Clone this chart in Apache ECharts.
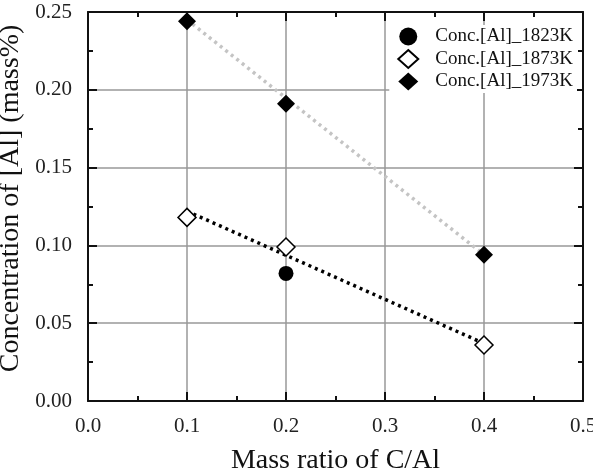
<!DOCTYPE html>
<html>
<head>
<meta charset="utf-8">
<script src="https://cdn.jsdelivr.net/npm/echarts@6/dist/echarts.min.js"></script>
<style>
html,body{margin:0;padding:0;background:#fff;}
#chart{width:593px;height:472px;}
</style>
</head>
<body>
<div id="chart"></div>
<script>
// 数据
var ratio = [0.1, 0.2, 0.4];
var al1823 = [[0.2, 0.082]];
var al1873 = [0.118, 0.099, 0.036];
var al1973 = [0.244, 0.191, 0.094];
// 拟合线 (两端点)
var fitX = [0.1, 0.4];
var fit1873 = [0.122, 0.037];
var fit1973 = [0.245, 0.094];
var names = ['Conc.[Al]_1823K', 'Conc.[Al]_1873K', 'Conc.[Al]_1973K'];

function pairs(xs, ys){
  var out = [];
  for (var i = 0; i < xs.length; i++) out.push([xs[i], ys[i]]);
  return out;
}

var font = 'Liberation Serif';
var chart = echarts.init(document.getElementById('chart'));
var axisLine = {show: true, onZero: false, lineStyle: {color: '#111', width: 2}};
var tick = {show: true, inside: true, length: 9, lineStyle: {color: '#111', width: 2}};
var minor = {show: true, splitNumber: 2, length: 5, lineStyle: {color: '#111', width: 2}};
var option = {
  animation: false,
  textStyle: {fontFamily: font},
  grid: {left: 88, right: 10, top: 12, bottom: 71, outerBoundsMode: 'none', containLabel: false},
  legend: {
    data: names,
    orient: 'vertical',
    right: 16,
    top: 25,
    itemGap: 3,
    itemWidth: 20,
    itemHeight: 18,
    padding: [2, 4, 2, 8],
    backgroundColor: '#fff',
    textStyle: {fontFamily: font, fontSize: 19, color: '#111', padding: [0, 0, 0, 12]}
  },
  xAxis: [
    {
      type: 'value', min: 0, max: 0.5, interval: 0.1,
      name: 'Mass ratio of C/Al', nameLocation: 'middle', nameGap: 46,
      nameTextStyle: {fontFamily: font, fontSize: 28, color: '#111'},
      axisLine: axisLine, axisTick: tick, minorTick: minor,
      axisLabel: {fontFamily: font, fontSize: 21, color: '#222', margin: 15,
        formatter: function(v){ return v.toFixed(1); }},
      splitLine: {show: true, lineStyle: {color: '#999', width: 1.5}}
    },
    {
      type: 'value', min: 0, max: 0.5, interval: 0.1, position: 'top',
      axisLine: axisLine, axisTick: tick, minorTick: minor,
      axisLabel: {show: false},
      splitLine: {show: false}
    }
  ],
  yAxis: [
    {
      type: 'value', min: 0, max: 0.25, interval: 0.05,
      name: 'Concentration of [Al] (mass%)', nameLocation: 'middle', nameGap: 53,
      nameTextStyle: {fontFamily: font, fontSize: 28, color: '#111', padding: [0, 0, 0, 16]},
      axisLine: axisLine, axisTick: tick, minorTick: minor,
      axisLabel: {fontFamily: font, fontSize: 21, color: '#222', margin: 16,
        formatter: function(v){ return v.toFixed(2); }},
      splitLine: {show: true, lineStyle: {color: '#999', width: 1.5}}
    },
    {
      type: 'value', min: 0, max: 0.25, interval: 0.05, position: 'right',
      axisLine: axisLine, axisTick: tick, minorTick: minor,
      axisLabel: {show: false},
      splitLine: {show: false}
    }
  ],
  series: [
    {
      name: 'fit1973', type: 'line', data: pairs(fitX, fit1973),
      showSymbol: false, symbol: 'none', z: 2, silent: true,
      lineStyle: {color: '#c4c4c4', width: 3.5, type: [3, 4]}
    },
    {
      name: 'fit1873', type: 'line', data: pairs(fitX, fit1873),
      showSymbol: false, symbol: 'none', z: 2, silent: true,
      lineStyle: {color: '#000', width: 3.5, type: [3, 4]}
    },
    {
      name: names[0], type: 'scatter', data: al1823, symbol: 'circle', symbolSize: 15, z: 5,
      itemStyle: {color: '#000', opacity: 1}
    },
    {
      name: names[1], type: 'scatter', data: pairs(ratio, al1873), symbol: 'diamond', symbolSize: [18, 18], z: 5,
      itemStyle: {color: '#fff', borderColor: '#000', borderWidth: 1.5, opacity: 1}
    },
    {
      name: names[2], type: 'scatter', data: pairs(ratio, al1973), symbol: 'diamond', symbolSize: [18, 18], z: 5,
      itemStyle: {color: '#000', opacity: 1}
    }
  ]
};
chart.setOption(option);
</script>
</body>
</html>
